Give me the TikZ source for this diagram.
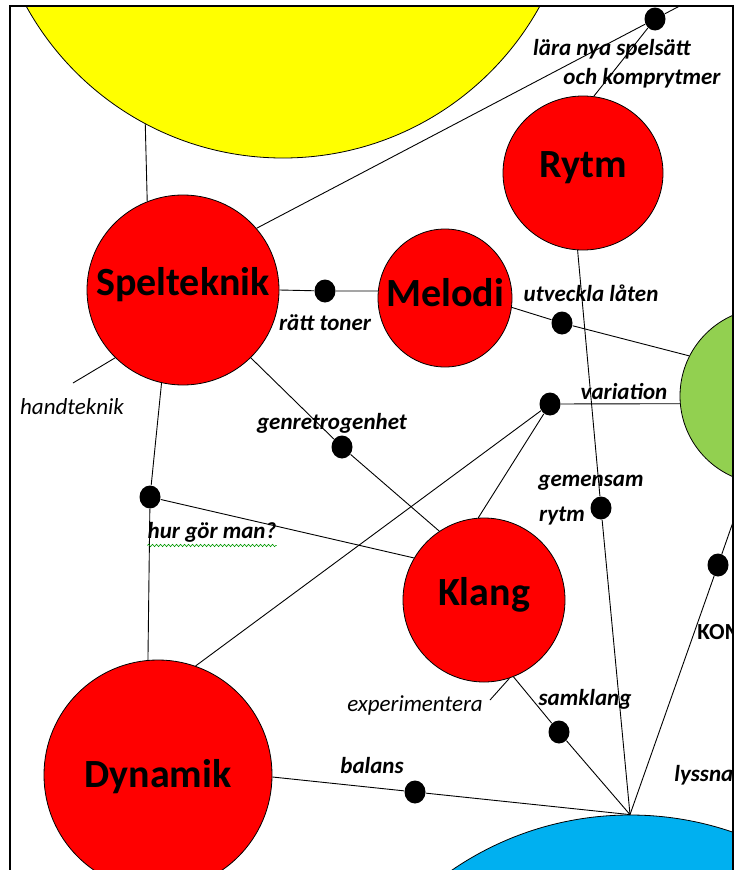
\documentclass[tikz,border=0pt]{standalone}
\usepackage{fontspec}
\setmainfont{Carlito}
\usetikzlibrary{shapes.geometric,decorations.pathmorphing}
\definecolor{yelfill}{HTML}{FFFF00}
\definecolor{redfill}{HTML}{FF0000}
\definecolor{grnfill}{HTML}{92D050}
\definecolor{blufill}{HTML}{00B0F0}

\begin{document}
\begin{tikzpicture}[x=1pt,y=-1pt,line width=0.9pt,
      main node/.style={ellipse,draw,fill=redfill,inner sep=0,line width=0.8pt},
      big node/.style={circle,draw,inner sep=0,line width=0.8pt},
      dot node/.style={ellipse,fill=black,inner sep=0,
          minimum width=21pt,minimum height=23pt},
      name text/.style={font=\fontsize{40}{40}\selectfont\bfseries,yshift=5pt},
      link node/.style={font=\fontsize{23}{23}\selectfont\bfseries\itshape,inner sep=0},
      plain node/.style={font=\fontsize{23}{23}\selectfont\itshape,inner sep=0}]

    \useasboundingbox (0,0) rectangle (736,870);
    \begin{scope}
    \clip (10,6) rectangle (733,870);

    % big circles, partly outside the frame
    \node[big node,fill=yelfill,minimum size=586pt] (yel) at (283,-135) {};
    \node[big node,fill=grnfill,minimum size=176pt] (grn) at (768,396) {};
    \node[big node,fill=blufill,minimum size=630pt] (blu) at (630,1130) {};

    % red circles
    \node[main node,minimum width=192pt,minimum height=190pt,
          label={[name text]center:Spelteknik}] (spel) at (183,290) {};
    \node[main node,minimum width=134pt,minimum height=138pt,
          label={[name text]center:Melodi}] (mel) at (445,298) {};
    \node[main node,minimum width=160pt,minimum height=154pt,
          label={[name text]center:Rytm}] (ryt) at (583,173) {};
    \node[main node,minimum width=162pt,minimum height=164pt,
          label={[name text]center:Klang}] (kla) at (484,600) {};
    \node[main node,minimum width=228pt,minimum height=230pt,
          label={[name text,yshift=-7pt]center:Dynamik}] (dyn) at (158,775) {};

    % dots
    \node[dot node] (d1) at (655,19) {};
    \node[dot node] (d2) at (325,291) {};
    \node[dot node] (d3) at (562,323) {};
    \node[dot node] (d4) at (550,404) {};
    \node[dot node] (d5) at (342,447) {};
    \node[dot node] (d6) at (150,497) {};
    \node[dot node] (d7) at (601,508) {};
    \node[dot node] (d8) at (718,565) {};
    \node[dot node] (d9) at (559,732) {};
    \node[dot node] (d10) at (415,792) {};

    % free ends
    \coordinate (c1) at (710,-10);
    \coordinate (c2) at (760,445);
    \coordinate (hand) at (73,383);
    \coordinate (exp) at (490,700);

    \path[draw]
    (yel.242) edge (spel.112)
    (spel.40) edge (d1)
    (d1) edge (c1)
    edge (ryt.82)
    (spel.east) edge (d2)
    (d2) edge (mel.174)
    (mel.-8) edge (d3)
    (d3) edge (grn.153)
    (ryt.266) edge (d7)
    (d7) edge (blu.north)
    (grn.185) edge (d4)
    (d4) edge (kla.94)
    edge (dyn.71)
    (spel.-45) edge (d5)
    (d5) edge (kla.123)
    (spel.257) edge (d6)
    (d6) edge (dyn.95)
    edge (kla.149)
    (spel.225) edge (hand)
    (kla.-72) edge (exp)
    (kla.-69) edge (d9)
    (d9) edge (blu.north)
    (dyn.-1) edge (d10)
    (d10) edge (blu.north)
    (blu.north) edge (d8)
    (d8) edge (c2)
    ;

    % texts on the links
    \node[link node] (lara) at (612,49) {lära nya spelsätt};
    \node[link node,anchor=west] (och) at (563,78) {och komprytmer};
    \node[link node] (ratt) at (325,323) {rätt toner};
    \node[link node] (utv) at (591,293) {utveckla låten};
    \node[plain node] (htk) at (72,407) {handteknik};
    \node[link node] (genre) at (332,423) {genretrogenhet};
    \node[link node] (var) at (624,392) {variation};
    \node[link node] (gem) at (591,483) {gemensam};
    \node[link node] (rytm) at (562,516) {rytm};
    \node[link node] (hur) at (212,532) {hur gör man?};
    \node[font=\fontsize{23}{23}\selectfont\bfseries,inner sep=0,anchor=west]
         (kom) at (697,632) {KOM};
    \node[plain node] (expt) at (415,705) {experimentera};
    \node[link node] (sam) at (585,699) {samklang};
    \node[link node] (bal) at (372,766) {balans};
    \node[link node,anchor=west] (lys) at (674,775) {lyssna};

    \draw[green!60!black,line width=0.6pt,decorate,
          decoration={snake,amplitude=1.2pt,segment length=4pt}]
    ([yshift=-3pt]hur.south west) -- ([yshift=-3pt]hur.south east);
    \end{scope}

    % frame
    \draw[line width=2pt] (10,870) -- (10,6) -- (733,6) -- (733,870);
  \end{tikzpicture}
\end{document}
